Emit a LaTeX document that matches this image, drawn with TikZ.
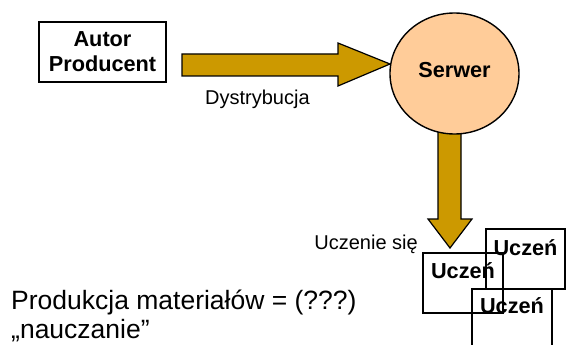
\documentclass[tikz,border=0pt]{standalone}
\usepackage{fontspec}
\setmainfont{Liberation Sans}
\usetikzlibrary{shapes.geometric}
\definecolor{arrowgold}{RGB}{204,153,0}
\definecolor{peach}{RGB}{255,204,153}
\begin{document}
\begin{tikzpicture}[x=1pt,y=-1pt,
  boxstyle/.style={draw=black, line width=1.4pt, inner sep=0pt},
  fat/.style={draw=black, line width=1.2pt, fill=arrowgold, line join=miter},
  boldtxt/.style={font=\fontsize{21.7}{25}\selectfont\bfseries},
  lbl/.style={font=\fontsize{20}{23}\selectfont},
  big/.style={font=\fontsize{26.5}{30}\selectfont}]
\clip (0,0) rectangle (566,345);
\useasboundingbox (0,0) rectangle (566,345);

% Author box
\node[boxstyle, minimum width=127pt, minimum height=60pt, align=center, boldtxt] (autor) at (102.5,52) {Autor\\Producent};

% fat arrows
\draw[fat] (182,54) -- (338,54) -- (338,43) -- (390,64) -- (338,86) -- (338,76) -- (182,76) -- cycle;
\draw[fat] (438,128) -- (461,128) -- (461,219) -- (472,219) -- (450,248) -- (428,219) -- (438,219) -- cycle;

% server
\node[ellipse, draw=black, line width=1.4pt, fill=peach, minimum width=129pt, minimum height=121pt, inner sep=0pt, boldtxt, text height=15.5pt, text depth=6.5pt] (serwer) at (454.5,73.5) {Serwer};

% labels
\node[lbl, anchor=base west, inner sep=0pt] (dystr) at (205,105) {Dystrybucja};
\node[lbl, anchor=base east, inner sep=0pt] (uczsie) at (418,250) {Uczenie się};

% learners
\node[boxstyle, boldtxt, minimum width=79pt, text height=26.5pt, text depth=33.5pt, anchor=base] (u2) at (525.5,255.5) {Uczeń};
\node[boxstyle, boldtxt, minimum width=80pt, text height=25.5pt, text depth=34.5pt, anchor=base] (u1) at (463,278.5) {Uczeń};
\node[boxstyle, boldtxt, minimum width=80pt, text height=24pt, text depth=60pt, anchor=base] (u3) at (512,313) {Uczeń};

% bottom text
\node[big, anchor=base west, inner sep=0pt] (prod) at (11,309.5) {Produkcja materiałów = (???)};
\node[big, anchor=base west, inner sep=0pt] (naucz) at (11,338) {„nauczanie”};
\end{tikzpicture}
\end{document}
